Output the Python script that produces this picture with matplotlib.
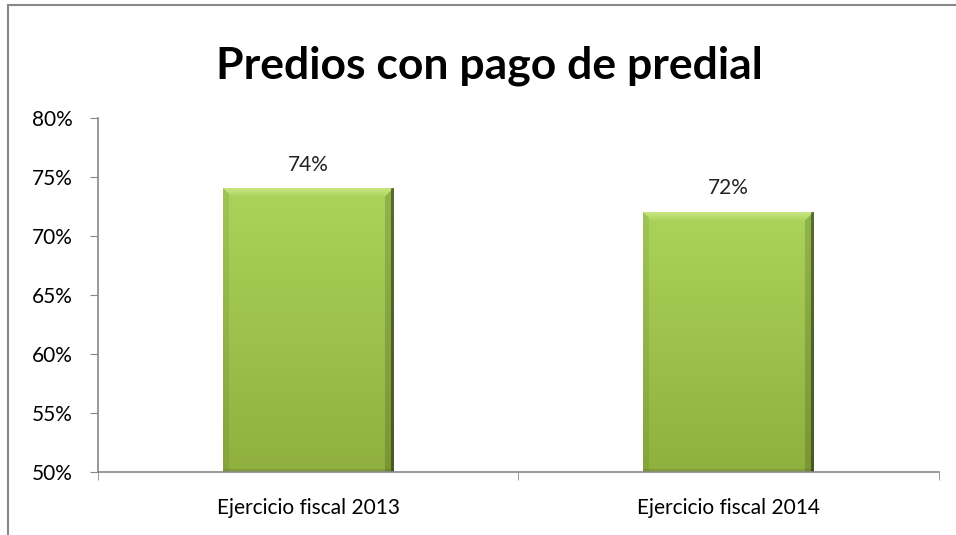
import numpy as np
import matplotlib.pyplot as plt
from matplotlib.lines import Line2D
from matplotlib.colors import to_rgb

categories = ['Ejercicio fiscal 2013', 'Ejercicio fiscal 2014']
values = [74, 72]
labels = ['74%', '72%']
yticks = [50, 55, 60, 65, 70, 75, 80]

plt.rcParams['font.family'] = ['Lato', 'DejaVu Sans']

fig = plt.figure(figsize=(9.56, 5.35), dpi=100)
ax = fig.add_axes([0.1025, 0.1178, 0.8795, 0.6616])
ax.set_xlim(-0.5, 1.5)
ax.set_ylim(yticks[0], yticks[-1])
base = yticks[0]

x = np.arange(len(categories))
width = 0.405
bars = ax.bar(x, np.array(values) - base, bottom=base, width=width,
              color='#9fc64b', edgecolor='none', zorder=2)


def bevel_image(h, w, bv=9):
    # body: light green at top, a bit darker toward the bottom
    top = np.array(to_rgb('#abd35b'))
    bot = np.array(to_rgb('#8fb03e'))
    t = np.linspace(0, 1, h)[:, None, None]
    img = np.repeat(top * (1 - t) + bot * t, w, axis=1)
    yy, xx = np.mgrid[0:h, 0:w]
    # top bevel highlight
    hi = np.array(to_rgb('#c9e783'))
    m = (yy < bv) & (xx >= yy) & (xx < w - 1 - yy)
    a = (1 - yy / bv)[..., None] * 0.9
    img = np.where(m[..., None], img * (1 - a) + hi * a, img)
    # left bevel slightly darker
    m = (xx < bv * 0.6) & (yy >= xx)
    img = np.where(m[..., None], img * 0.93, img)
    # right bevel darker, with a shadow line
    m = (xx >= w - bv) & (yy >= (w - 1 - xx))
    img = np.where(m[..., None], img * 0.85, img)
    img[:, -3:, :] *= 0.6
    # bottom edge
    img[-3:, :, :] *= 0.9
    return np.clip(img, 0, 1)


fig.canvas.draw()
for b in bars:
    x0, y0 = b.get_x(), b.get_y()
    x1, y1 = x0 + b.get_width(), y0 + b.get_height()
    (px0, py0), (px1, py1) = ax.transData.transform([(x0, y0), (x1, y1)])
    img = bevel_image(int(round(py1 - py0)), int(round(px1 - px0)))
    ax.imshow(img, extent=[x0, x1, y0, y1], aspect='auto', zorder=3,
              interpolation='nearest')

for xi, v, lab in zip(x, values, labels):
    ax.text(xi, v + 1.2, lab, ha='center', va='bottom', fontsize=15, color='#222222')

ax.set_xlim(-0.5, 1.5)
ax.set_ylim(yticks[0], yticks[-1])
ax.set_yticks(yticks)
ax.set_yticklabels([f'{t}%' for t in yticks], fontsize=15)
ax.set_xticks(x)
ax.set_xticklabels(categories, fontsize=15)
ax.tick_params(axis='x', length=0, pad=19)
ax.set_xticks([-0.5, 0.5, 1.5], minor=True)
ax.tick_params(axis='x', which='minor', length=6, color='#888888')
ax.tick_params(axis='y', length=6, color='#888888', pad=12)

for side in ['top', 'right']:
    ax.spines[side].set_visible(False)
for side in ['left', 'bottom']:
    ax.spines[side].set_color('#888888')
    ax.spines[side].set_linewidth(1.2)
    ax.spines[side].set_zorder(4)

fig.text(0.512, 0.877, 'Predios con pago de predial', ha='center', va='center',
         fontsize=32, fontweight='bold')

# outer chart border (cropped on right and bottom)
fig.add_artist(Line2D([0.0085, 1.0], [0.991, 0.991], color='#888888', lw=1.5))
fig.add_artist(Line2D([0.0085, 0.0085], [0.0, 0.991], color='#888888', lw=1.5))

fig.savefig('out.png', dpi=100)
